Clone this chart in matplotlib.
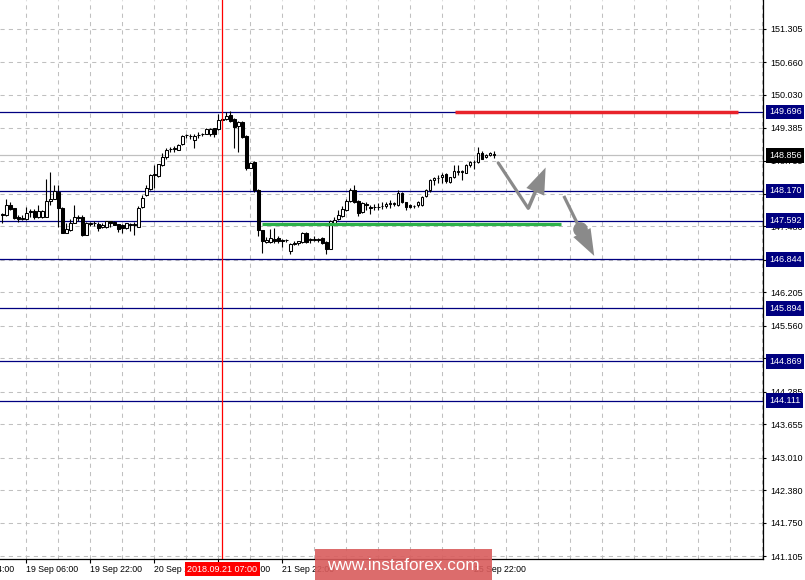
import numpy as np
import matplotlib.pyplot as plt
from matplotlib.patches import Rectangle

plt.rcParams['font.family'] = ['Liberation Sans', 'DejaVu Sans']

# hourly candles, bar 0 = 19 Sep 00:00
opens = [147.71, 147.70, 147.90, 147.84, 147.66, 147.62, 147.62, 147.76, 147.78, 147.66,
         147.66, 147.66, 147.97, 148.01, 148.15, 147.84, 147.35, 147.41, 147.55, 147.66,
         147.66, 147.31, 147.53, 147.55, 147.53, 147.47, 147.47, 147.59, 147.57, 147.53,
         147.51, 147.45, 147.51, 147.52, 147.47, 147.86, 148.09, 148.20, 148.47, 148.46,
         148.67, 148.82, 148.97, 148.98, 148.96, 149.07, 149.24, 149.23, 149.15, 149.24,
         149.26, 149.27, 149.27, 149.38, 149.36, 149.54, 149.56, 149.64, 149.56, 149.42,
         149.50, 149.23, 148.61, 148.73, 148.19, 147.41, 147.18, 147.18, 147.24, 147.26,
         147.22, 147.21, 147.01, 147.14, 147.16, 147.18, 147.35, 147.22, 147.22, 147.23,
         147.26, 147.18, 147.04, 147.55, 147.62, 147.68, 147.80, 147.97, 148.19, 147.97,
         147.76, 147.91, 147.86, 147.85, 147.85, 147.87, 147.88, 147.92, 147.92, 147.90,
         148.13, 147.95, 147.90, 147.87, 147.89, 147.90, 148.07, 148.19, 148.38, 148.41,
         148.44, 148.49, 148.34, 148.44, 148.54, 148.54, 148.51, 148.67, 148.72, 148.73,
         148.90, 148.82, 148.86, 148.88]
highs = [147.74, 148.01, 147.95, 147.84, 147.70, 147.70, 147.86, 147.82, 147.82, 147.90,
         147.80, 148.40, 148.53, 148.28, 148.28, 147.86, 147.55, 147.62, 147.90, 147.70,
         147.70, 147.57, 147.57, 147.59, 147.57, 147.55, 147.59, 147.59, 147.59, 147.53,
         147.53, 147.55, 147.55, 147.57, 147.88, 148.09, 148.28, 148.49, 148.67, 148.69,
         148.90, 149.00, 149.02, 149.04, 149.08, 149.25, 149.27, 149.27, 149.27, 149.31,
         149.29, 149.38, 149.38, 149.38, 149.66, 149.58, 149.69, 149.71, 149.58, 149.52,
         149.52, 149.25, 148.73, 148.75, 148.20, 147.41, 147.28, 147.43, 147.45, 147.30,
         147.24, 147.24, 147.16, 147.20, 147.20, 147.37, 147.37, 147.26, 147.29, 147.26,
         147.28, 147.20, 147.60, 147.66, 147.80, 147.88, 148.01, 148.22, 148.28, 147.99,
         147.95, 147.95, 147.90, 147.91, 147.93, 147.95, 147.95, 147.99, 147.95, 148.19,
         148.15, 147.95, 147.91, 147.90, 147.97, 148.07, 148.20, 148.40, 148.44, 148.47,
         148.51, 148.51, 148.44, 148.67, 148.67, 148.57, 148.69, 148.75, 148.77, 149.02,
         148.94, 148.88, 148.92, 148.94]
lows = [147.55, 147.68, 147.80, 147.62, 147.57, 147.60, 147.60, 147.66, 147.62, 147.64,
        147.64, 147.66, 147.90, 148.01, 147.47, 147.35, 147.35, 147.39, 147.55, 147.59,
        147.30, 147.31, 147.49, 147.49, 147.39, 147.45, 147.45, 147.47, 147.51, 147.37,
        147.35, 147.43, 147.39, 147.31, 147.47, 147.84, 148.07, 148.19, 148.22, 148.44,
        148.65, 148.78, 148.92, 148.92, 148.96, 149.06, 149.19, 149.17, 149.00, 149.19,
        149.23, 149.27, 149.23, 149.21, 149.35, 149.52, 149.54, 149.50, 149.00, 148.92,
        149.19, 148.57, 148.61, 148.15, 147.30, 146.97, 147.16, 147.16, 147.16, 147.16,
        147.08, 147.18, 146.95, 147.12, 147.12, 147.16, 147.16, 147.16, 147.20, 147.18,
        147.14, 146.95, 147.04, 147.53, 147.61, 147.66, 147.78, 147.95, 147.93, 147.68,
        147.74, 147.80, 147.72, 147.80, 147.80, 147.82, 147.84, 147.84, 147.88, 147.88,
        147.93, 147.80, 147.84, 147.84, 147.86, 147.88, 148.05, 148.15, 148.28, 148.32,
        148.32, 148.32, 148.32, 148.42, 148.47, 148.38, 148.51, 148.63, 148.59, 148.71,
        148.78, 148.80, 148.84, 148.80]
closes = [147.73, 147.90, 147.82, 147.64, 147.62, 147.64, 147.74, 147.78, 147.66, 147.78,
          147.78, 147.97, 148.01, 148.17, 147.84, 147.35, 147.43, 147.55, 147.66, 147.64,
          147.31, 147.55, 147.55, 147.54, 147.45, 147.50, 147.59, 147.55, 147.51, 147.43,
          147.45, 147.55, 147.52, 147.51, 147.84, 148.03, 148.22, 148.47, 148.49, 148.69,
          148.82, 148.96, 148.98, 149.00, 149.06, 149.23, 149.25, 149.22, 149.23, 149.25,
          149.27, 149.36, 149.36, 149.27, 149.54, 149.55, 149.62, 149.52, 149.40, 149.50,
          149.21, 148.61, 148.71, 148.19, 147.41, 147.20, 147.22, 147.26, 147.20, 147.20,
          147.20, 147.22, 147.14, 147.16, 147.20, 147.35, 147.18, 147.23, 147.23, 147.22,
          147.16, 147.04, 147.59, 147.61, 147.70, 147.82, 147.97, 148.19, 147.95, 147.74,
          147.93, 147.90, 147.84, 147.86, 147.86, 147.88, 147.91, 147.93, 147.93, 148.13,
          147.95, 147.86, 147.86, 147.88, 147.95, 148.05, 148.19, 148.38, 148.42, 148.42,
          148.48, 148.36, 148.43, 148.55, 148.55, 148.55, 148.67, 148.73, 148.73, 148.90,
          148.79, 148.86, 148.90, 148.86]

y_ticks = [151.305, 150.660, 150.030, 149.385, 148.755, 148.110, 147.480, 146.835,
           146.205, 145.560, 144.930, 144.285, 143.655, 143.010, 142.380, 141.750, 141.105]
y_hidden = [146.835, 144.930]          # sit fully under the level tags
x_tick_bars = [6, 22, 38, 54, 70, 86, 102, 118]
x_tick_labels = ['19 Sep 06:00', '19 Sep 22:00', '20 Sep 14:00', '21 Sep 06:00',
                 '21 Sep 22:00', '', '', '25 Sep 22:00']   # two are under the watermark
levels = [149.696, 148.170, 147.592, 146.844, 145.894, 144.869, 144.111]
bid = 148.856
marker_bar = 55
marker_label = '2018.09.21 07:00'

red_zone = ([113.2, 183.9], [149.70, 149.70])
green_zone = ([64.9, 139.7], [147.53, 147.53])
up_path = ([124.0, 131.5, 135.85], [148.71, 147.83, 148.62])
down_path = ([140.4, 144.4, 148.0], [148.07, 147.44, 146.91])

fig = plt.figure(figsize=(8.05, 5.8), dpi=100)
ax = fig.add_axes([0, 21 / 580, 763 / 805, 559 / 580])
ax.set_xlim(-0.58, 190.2)
ax.set_ylim(141.048, 151.86)

for s in ['left', 'top']:
    ax.spines[s].set_visible(False)
for s in ['right', 'bottom']:
    ax.spines[s].set_linewidth(0.9)

# dashed grid
for gx in np.arange(6, 191, 8):
    ax.axvline(gx, color='#c0c0c0', lw=0.75, ls=(0, (4, 4)), zorder=1)
for gy in y_ticks:
    ax.axhline(gy, color='#c0c0c0', lw=0.75, ls=(0, (4, 4)), zorder=1)

# level lines
for lv in levels:
    ax.axhline(lv, color='#000080', lw=0.9, zorder=2)
ax.axhline(bid, color='#c0c0c0', lw=0.9, zorder=2)

# candles
o = np.array(opens); h = np.array(highs); l = np.array(lows); c = np.array(closes)
x = np.arange(len(o))
ax.vlines(x, l, h, color='black', lw=0.8, zorder=3)
face = np.where(c >= o, 'white', 'black')
ax.bar(x, np.abs(c - o), bottom=np.minimum(o, c), width=0.62, color=face,
       edgecolor='black', linewidth=0.75, zorder=4)

ax.axvline(marker_bar, color='red', lw=0.9, zorder=5)

ax.plot(*red_zone, color='#e8232b', lw=2.5, solid_capstyle='butt', zorder=6)
ax.plot(*green_zone, color='#2db14a', lw=2.3, solid_capstyle='butt', zorder=6)

# forecast arrows
arrow_col = '#8a8a8a'
head = dict(facecolor=arrow_col, edgecolor='none', width=2.6, headwidth=14,
            headlength=19, shrink=0)
ax.plot(up_path[0][:2], up_path[1][:2], color=arrow_col, lw=2.3,
        solid_capstyle='round', zorder=6)
ax.annotate('', xy=(up_path[0][2], up_path[1][2]), xytext=(up_path[0][1], up_path[1][1]),
            arrowprops=head, zorder=6)
ax.plot(down_path[0][:2], down_path[1][:2], color=arrow_col, lw=2.3,
        solid_capstyle='butt', zorder=6)
ax.plot(down_path[0][1], down_path[1][1], 'o', color=arrow_col, ms=9.5, zorder=6)
ax.annotate('', xy=(down_path[0][2], down_path[1][2]), xytext=(down_path[0][1], down_path[1][1]),
            arrowprops=head, zorder=6)

# axes ticks
ax.yaxis.tick_right()
ax.set_yticks(y_ticks, ['' if v in y_hidden else f'{v:.3f}' for v in y_ticks])
ax.tick_params(axis='y', length=2.5, width=0.8, pad=2.5, labelsize=6.5)
ax.set_xticks(x_tick_bars, x_tick_labels, ha='left')
ax.tick_params(axis='x', length=3, width=0.8, pad=1.5, labelsize=6.3)
ax.annotate('18 Sep 14:00', xy=(-10, 0), xycoords=('data', 'axes fraction'),
            xytext=(0, -4.5), textcoords='offset points', ha='left', va='top',
            fontsize=6.3, annotation_clip=False)

# price tags on the right
for lv in levels:
    ax.annotate(f'{lv:.3f}', xy=(1, lv), xycoords=('axes fraction', 'data'),
                xytext=(6, 0), textcoords='offset pixels', ha='left', va='center',
                color='white', fontsize=6.5, annotation_clip=False, zorder=10,
                bbox=dict(boxstyle='square,pad=0.3', fc='#000080', ec='none'))
ax.annotate(f'{bid:.3f}', xy=(1, bid), xycoords=('axes fraction', 'data'),
            xytext=(6, 0), textcoords='offset pixels', ha='left', va='center',
            color='white', fontsize=6.5, annotation_clip=False, zorder=10,
            bbox=dict(boxstyle='square,pad=0.3', fc='black', ec='none'))

ax.annotate(marker_label, xy=(marker_bar, 0), xycoords=('data', 'axes fraction'),
            xytext=(0, -10), textcoords='offset pixels', ha='center', va='center',
            color='white', fontsize=6.5, annotation_clip=False, zorder=10,
            bbox=dict(boxstyle='square,pad=0.25', fc='red', ec='none'))

# watermark
fig.add_artist(Rectangle((315 / 805, 0), 177 / 805, 31 / 580, transform=fig.transFigure,
                         fc='#d95c5c', ec='none', alpha=0.9, zorder=20))
fig.text(403 / 805, 15 / 580, 'www.instaforex.com', ha='center', va='center',
         color='white', fontsize=12.3, zorder=21)

fig.savefig('out.png', dpi=100)
